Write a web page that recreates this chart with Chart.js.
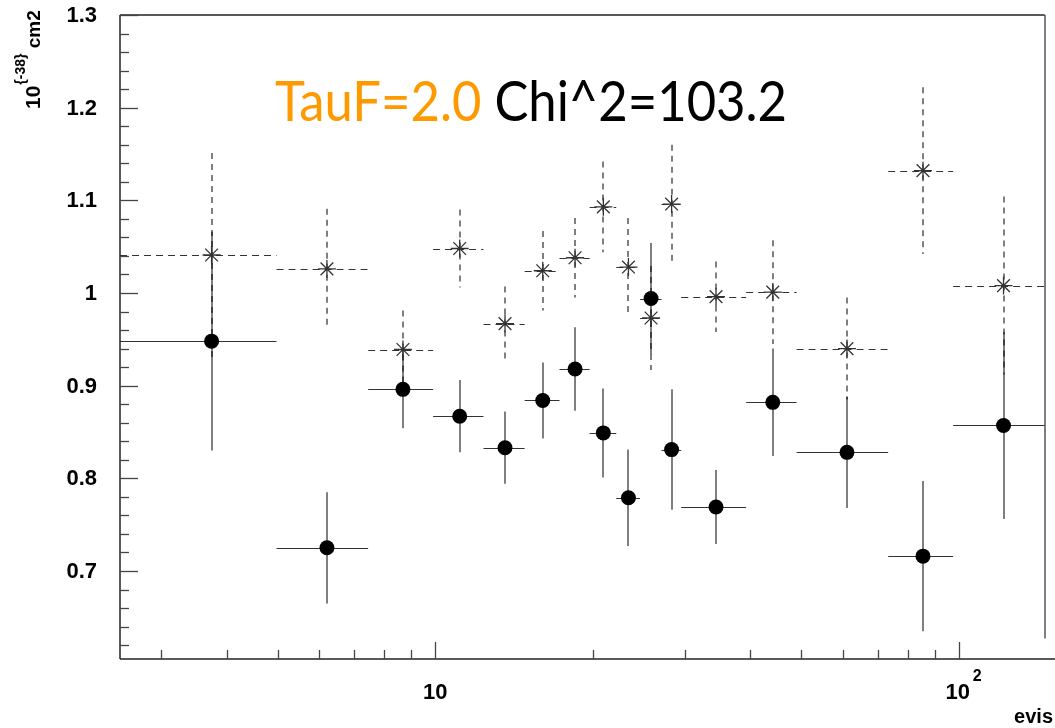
<!DOCTYPE html>
<html>
<head>
<meta charset="utf-8">
<script src="https://cdn.jsdelivr.net/npm/chart.js@4.4.1/dist/chart.umd.min.js"></script>
<style>
  html, body { margin: 0; padding: 0; background: #fff; }
  #wrap { width: 1055px; height: 728px; position: relative; }
</style>
</head>
<body>
<div id="wrap"><canvas id="xsec"></canvas></div>
<script>
// evis bins
const binLow    = [2.5, 5, 7.5, 10, 12.5, 15, 17.5, 20, 22.5, 25, 27.5, 30, 40, 50, 75, 100];
const binHigh   = [5, 7.5, 10, 12.5, 15, 17.5, 20, 22.5, 25, 27.5, 30, 40, 50, 75, 100, 150];
const binCenter = [3.75, 6.25, 8.75, 11.25, 13.75, 16.25, 18.75, 21.25, 23.75, 26.25, 28.75, 35, 45, 62.5, 87.5, 125];

// filled circles, solid error bars
const dotValue = [0.948, 0.725, 0.896, 0.867, 0.833, 0.884, 0.918, 0.849, 0.779, 0.994, 0.831, 0.769, 0.882, 0.828, 0.716, 0.857];
const dotError = [0.118, 0.060, 0.042, 0.039, 0.039, 0.041, 0.045, 0.048, 0.052, 0.060, 0.065, 0.040, 0.058, 0.060, 0.081, 0.101];

// asterisks, dashed error bars
const starValue = [1.041, 1.026, 0.939, 1.048, 0.967, 1.024, 1.038, 1.093, 1.028, 0.973, 1.096, 0.996, 1.001, 0.940, 1.132, 1.008];
const starError = [0.110, 0.065, 0.042, 0.042, 0.040, 0.043, 0.043, 0.049, 0.053, 0.056, 0.064, 0.038, 0.056, 0.055, 0.090, 0.096];

// clipped bar sitting on the right edge of the frame
const edgeX = 150, edgeLow = 0.627, edgeHigh = 1.3;

// axis ticks
const yMajor  = [0.7, 0.8, 0.9, 1.0, 1.1, 1.2, 1.3];
const yLabels = ['0.7', '0.8', '0.9', '1', '1.1', '1.2', '1.3'];
const xMajor  = [10, 100];
const xMinor  = [3, 4, 5, 6, 7, 8, 9, 20, 30, 40, 50, 60, 70, 80, 90];

const title1 = 'TauF=2.0';
const title2 = ' Chi^2=103.2';

const BOLD = "'Liberation Sans', Arial, Helvetica, sans-serif";

function line(ctx, x1, y1, x2, y2) {
    ctx.beginPath();
    ctx.moveTo(x1, y1);
    ctx.lineTo(x2, y2);
    ctx.stroke();
}

function drawBars(ctx, xs, ys, values, errors, dashed) {
    for (let i = 0; i < values.length; i++) {
        const cx = Math.round(xs.getPixelForValue(binCenter[i]));
        const cy = ys.getPixelForValue(values[i]);
        const x1 = xs.getPixelForValue(binLow[i]);
        const x2 = xs.getPixelForValue(binHigh[i]);
        const yTop = ys.getPixelForValue(values[i] + errors[i]);
        const yBot = ys.getPixelForValue(values[i] - errors[i]);
        const hy = Math.round(cy) + 0.5;

        ctx.setLineDash(dashed ? [7, 5] : []);
        ctx.strokeStyle = 'rgba(0,0,0,0.8)';
        ctx.lineWidth = 1.2;
        line(ctx, x1, hy, x2, hy);

        ctx.setLineDash(dashed ? [6, 5] : []);
        ctx.strokeStyle = 'rgba(0,0,0,0.5)';
        ctx.lineWidth = 2;
        line(ctx, cx, yTop, cx, yBot);
    }
    ctx.setLineDash([]);
}

const rootFrame = {
    id: 'rootFrame',
    beforeDatasetsDraw(chart) {
        const { ctx, chartArea: a } = chart;
        const xs = chart.scales.x, ys = chart.scales.y;
        ctx.save();
        ctx.beginPath();
        ctx.rect(a.left, a.top, a.right - a.left, a.bottom - a.top);
        ctx.clip();
        drawBars(ctx, xs, ys, starValue, starError, true);
        drawBars(ctx, xs, ys, dotValue, dotError, false);
        ctx.restore();
    },
    afterDatasetsDraw(chart) {
        const { ctx, chartArea: a } = chart;
        const xt = chart.scales.xt, ys = chart.scales.y, xs = chart.scales.x;
        ctx.save();

        // right edge bar
        ctx.strokeStyle = 'rgba(0,0,0,0.5)';
        ctx.lineWidth = 2;
        const ex = Math.round(xs.getPixelForValue(edgeX));
        line(ctx, ex, ys.getPixelForValue(edgeHigh), ex, ys.getPixelForValue(edgeLow));

        // frame
        ctx.strokeStyle = '#222';
        ctx.lineWidth = 1.5;
        line(ctx, a.left, a.top, a.right, a.top);
        line(ctx, a.left, a.top, a.left, a.bottom);
        line(ctx, a.left, a.bottom, chart.width, a.bottom);

        // y ticks, drawn inside the frame
        ctx.strokeStyle = '#444';
        ctx.lineWidth = 1.3;
        for (let v = 0.62; v <= 1.3001; v += 0.02) {
            const y = Math.round(ys.getPixelForValue(v)) + 0.5;
            const major = Math.abs(v * 10 - Math.round(v * 10)) < 1e-6;
            line(ctx, a.left, y, a.left + (major ? 18 : 9), y);
        }
        ctx.fillStyle = '#000';
        ctx.font = 'bold 22px ' + BOLD;
        ctx.textAlign = 'right';
        ctx.textBaseline = 'middle';
        yMajor.forEach((v, i) => {
            ctx.fillText(yLabels[i], 97, ys.getPixelForValue(v) + 1);
        });

        // x ticks
        xMinor.forEach(v => {
            const x = Math.round(xt.getPixelForValue(v)) + 0.5;
            line(ctx, x, a.bottom, x, a.bottom - 9);
        });
        xMajor.forEach(v => {
            const x = Math.round(xt.getPixelForValue(v)) + 0.5;
            line(ctx, x, a.bottom, x, a.bottom - 17);
        });
        ctx.textAlign = 'center';
        ctx.fillText('10', xt.getPixelForValue(10), 693);
        const x100 = xt.getPixelForValue(100);
        ctx.fillText('10', x100 - 1, 693);
        ctx.font = 'bold 16px ' + BOLD;
        ctx.textAlign = 'left';
        ctx.fillText('2', x100 + 14, 677);

        // axis titles
        ctx.font = 'bold 20px ' + BOLD;
        ctx.textAlign = 'right';
        ctx.fillText('evis', 1053, 717);

        ctx.save();
        ctx.translate(40, 109);
        ctx.rotate(-Math.PI / 2);
        ctx.textAlign = 'left';
        ctx.textBaseline = 'alphabetic';
        ctx.font = 'bold 21px ' + BOLD;
        let w = ctx.measureText('10').width;
        ctx.fillText('10', 0, 0);
        ctx.font = 'bold 14px ' + BOLD;
        ctx.fillText('{-38}', w + 1, -15);
        w += ctx.measureText('{-38}').width + 1;
        ctx.font = 'bold 19px ' + BOLD;
        ctx.fillText(' cm2', w, 0);
        ctx.restore();

        // fit label
        ctx.font = '56px Lato, "Open Sans", sans-serif';
        ctx.textAlign = 'left';
        ctx.textBaseline = 'alphabetic';
        const w1 = ctx.measureText(title1).width;
        const w2 = ctx.measureText(title2).width;
        const k = 512 / (w1 + w2);
        ctx.translate(275, 121);
        ctx.scale(k, 1);
        ctx.fillStyle = '#ff9900';
        ctx.fillText(title1, 0, 0);
        ctx.fillStyle = '#000';
        ctx.fillText(title2, w1, 0);

        ctx.restore();
    }
};

const ctx = document.getElementById('xsec').getContext('2d');

new Chart(ctx, {
    type: 'scatter',
    data: {
        datasets: [{
            label: 'data',
            data: binCenter.map((x, i) => ({ x: x, y: dotValue[i] })),
            pointStyle: 'circle',
            pointRadius: 7.5,
            pointBackgroundColor: '#000',
            pointBorderColor: '#000',
            pointBorderWidth: 0,
            showLine: false
        }, {
            label: 'TauF=2.0',
            data: binCenter.map((x, i) => ({ x: x, y: starValue[i] })),
            pointStyle: 'star',
            pointRadius: 9,
            pointBackgroundColor: 'rgba(0,0,0,0)',
            pointBorderColor: '#333',
            pointBorderWidth: 1.3,
            showLine: false
        }]
    },
    options: {
        responsive: true,
        maintainAspectRatio: false,
        animation: false,
        events: [],
        layout: { padding: { left: 120, top: 15, right: 5, bottom: 69 } },
        scales: {
            x: { type: 'logarithmic', display: false, min: 2.5, max: 150 },
            // axis drawn by ROOT sits a few pixels off the data frame
            xt: { type: 'logarithmic', axis: 'x', position: 'bottom', display: false, min: 2.5, max: 146 },
            y: { type: 'linear', display: false, min: 0.605, max: 1.3 }
        },
        plugins: {
            legend: { display: false },
            tooltip: { enabled: false }
        }
    },
    plugins: [rootFrame]
});
</script>
</body>
</html>
